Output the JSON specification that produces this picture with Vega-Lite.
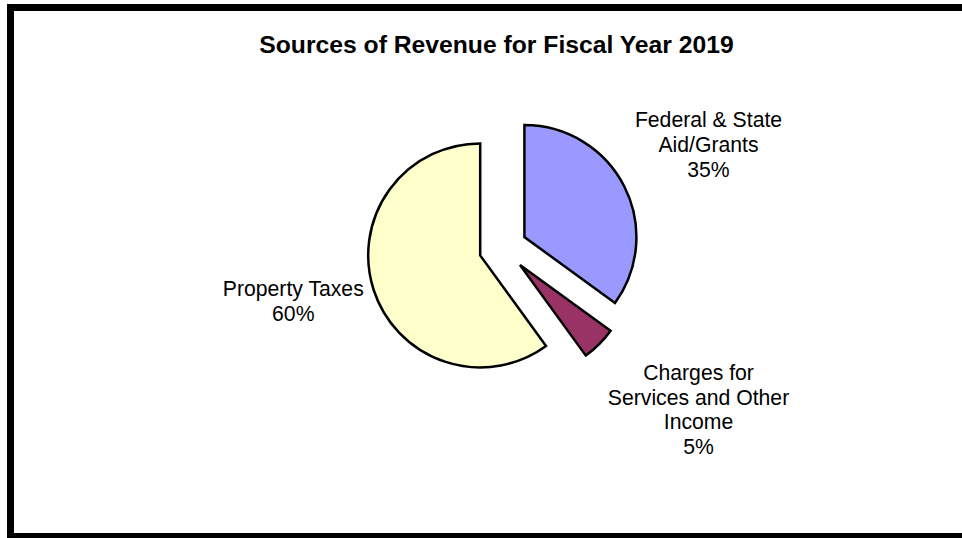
{
  "$schema": "https://vega.github.io/schema/vega-lite/v6.json",
  "width": 951.5,
  "height": 529,
  "autosize": {"type": "none"},
  "padding": {"left": 10.5, "top": 7.5, "right": 0, "bottom": 1.5},
  "background": "white",
  "view": {"stroke": "black", "strokeWidth": 7, "fill": "white", "strokeDash": [951.5, 529, 1480.5, 0], "strokeCap": "square"},
  "title": {
    "text": "Sources of Revenue for Fiscal Year 2019",
    "font": "Liberation Sans",
    "fontSize": 24.7,
    "fontWeight": "bold",
    "color": "black",
    "anchor": "middle",
    "frame": "group",
    "baseline": "top",
    "offset": 0,
    "dx": 10.25,
    "dy": 50.5
  },
  "data": {
    "values": [
      {"source": "Federal & State Aid/Grants", "label": "Federal & State\nAid/Grants\n35%", "value": 35},
      {"source": "Charges for Services and Other Income", "label": "Charges for\nServices and Other\nIncome\n5%", "value": 5},
      {"source": "Property Taxes", "label": "Property Taxes\n60%", "value": 60}
    ]
  },
  "transform": [
    {"stack": "value", "groupby": [], "offset": "normalize", "as": ["v0", "v1"]}
  ],
  "layer": [
    {
      "transform": [{"filter": "datum.source === 'Federal & State Aid/Grants'"}],
      "mark": {"type": "arc", "outerRadius": 112, "stroke": "black", "strokeWidth": 2.5, "xOffset": 38.15, "yOffset": -34.9},
      "encoding": {
        "theta": {"field": "v0", "type": "quantitative", "scale": {"domain": [0, 1]}, "stack": null},
        "theta2": {"field": "v1"},
        "color": {"field": "source", "type": "nominal", "legend": null,
          "scale": {"domain": ["Federal & State Aid/Grants", "Charges for Services and Other Income", "Property Taxes"], "range": ["#9999FF", "#993366", "#FFFFCC"]}}
      }
    },
    {
      "transform": [{"filter": "datum.source === 'Charges for Services and Other Income'"}],
      "mark": {"type": "arc", "outerRadius": 112, "stroke": "black", "strokeWidth": 2.5, "xOffset": 33.75, "yOffset": -7},
      "encoding": {
        "theta": {"field": "v0", "type": "quantitative", "scale": {"domain": [0, 1]}, "stack": null},
        "theta2": {"field": "v1"},
        "color": {"field": "source", "type": "nominal", "legend": null}
      }
    },
    {
      "transform": [{"filter": "datum.source === 'Property Taxes'"}],
      "mark": {"type": "arc", "outerRadius": 112, "stroke": "black", "strokeWidth": 2.5, "xOffset": -6.05, "yOffset": -16.6},
      "encoding": {
        "theta": {"field": "v0", "type": "quantitative", "scale": {"domain": [0, 1]}, "stack": null},
        "theta2": {"field": "v1"},
        "color": {"field": "source", "type": "nominal", "legend": null}
      }
    },
    {
      "transform": [
        {"filter": "datum.source === 'Federal & State Aid/Grants'"},
        {"fold": ["v0", "v1"], "as": ["edge", "ang"]}
      ],
      "mark": {"type": "text", "radius": 229.5, "dx": 17.75, "dy": -47, "font": "Liberation Sans", "fontSize": 21.2, "color": "black", "align": "center", "baseline": "middle", "lineBreak": "\n", "lineHeight": 25},
      "encoding": {
        "theta": {"aggregate": "mean", "field": "ang", "type": "quantitative", "scale": {"domain": [0, 1]}, "stack": null},
        "text": {"field": "label"}
      }
    },
    {
      "transform": [
        {"filter": "datum.source === 'Charges for Services and Other Income'"},
        {"fold": ["v0", "v1"], "as": ["edge", "ang"]}
      ],
      "mark": {"type": "text", "radius": 253.6, "dx": 32.95, "dy": -77.6, "font": "Liberation Sans", "fontSize": 21.2, "color": "black", "align": "center", "baseline": "middle", "lineBreak": "\n", "lineHeight": 24.8},
      "encoding": {
        "theta": {"aggregate": "mean", "field": "ang", "type": "quantitative", "scale": {"domain": [0, 1]}, "stack": null},
        "text": {"field": "label"}
      }
    },
    {
      "transform": [
        {"filter": "datum.source === 'Property Taxes'"},
        {"fold": ["v0", "v1"], "as": ["edge", "ang"]}
      ],
      "mark": {"type": "text", "radius": 216.4, "dx": 12.85, "dy": -48.5, "font": "Liberation Sans", "fontSize": 21.2, "color": "black", "align": "center", "baseline": "middle", "lineBreak": "\n", "lineHeight": 25},
      "encoding": {
        "theta": {"aggregate": "mean", "field": "ang", "type": "quantitative", "scale": {"domain": [0, 1]}, "stack": null},
        "text": {"field": "label"}
      }
    }
  ]
}
